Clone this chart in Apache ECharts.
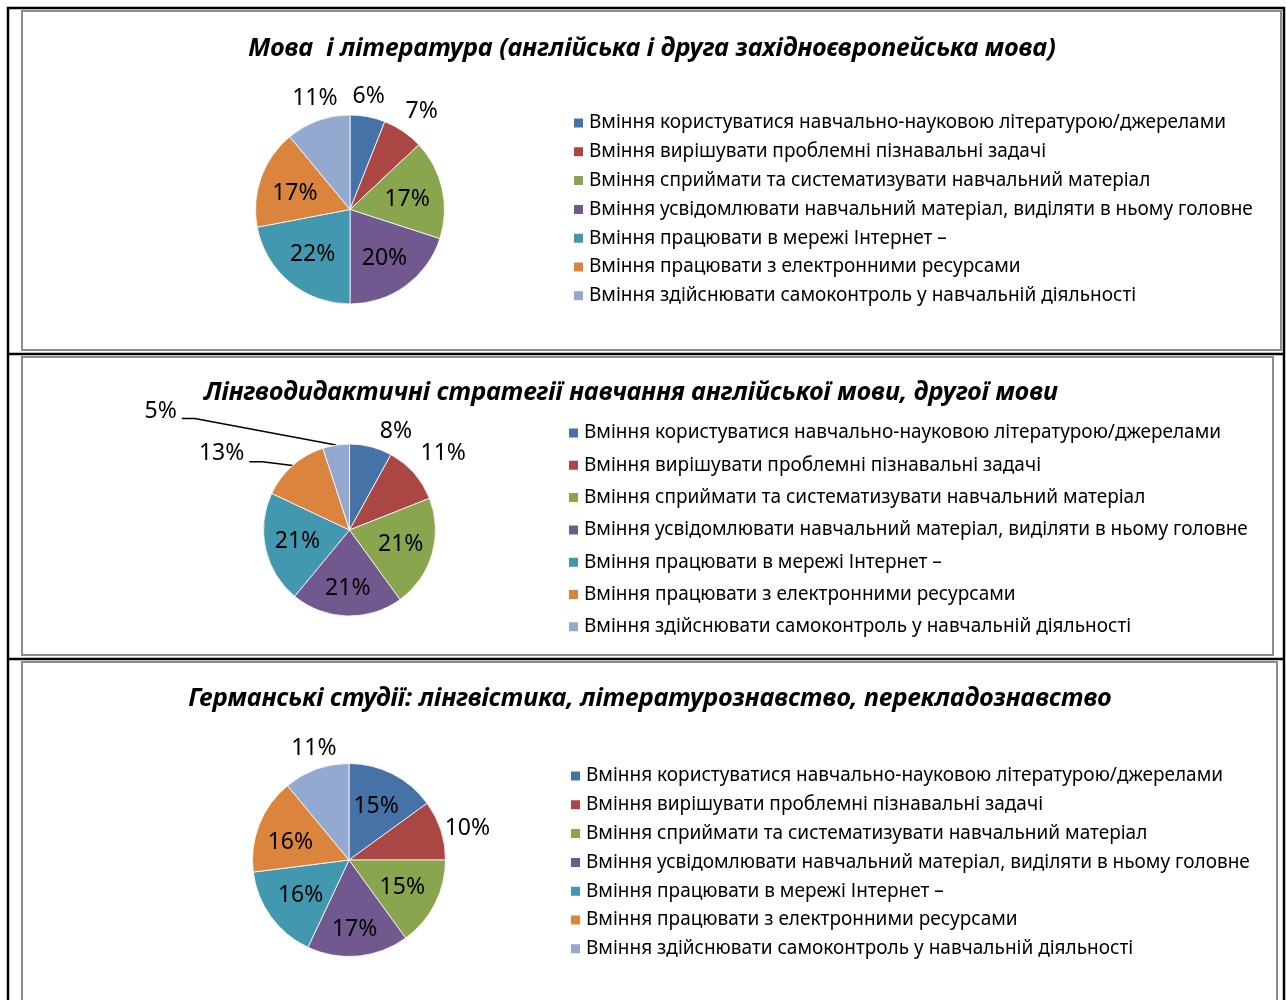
<!DOCTYPE html>
<html>
<head>
<meta charset="utf-8">
<script src="https://cdn.jsdelivr.net/npm/echarts@6/dist/echarts.min.js"></script>
<style>
html,body{margin:0;padding:0;background:#fff;}
#chart{width:1286px;height:1000px;}
</style>
</head>
<body>
<div id="chart"></div>
<script>
// ---- data ----
const categories = [
  'Вміння користуватися навчально-науковою літературою/джерелами',
  'Вміння вирішувати проблемні пізнавальні задачі',
  'Вміння сприймати та систематизувати навчальний матеріал',
  'Вміння усвідомлювати навчальний матеріал, виділяти в ньому головне',
  'Вміння працювати в мережі Інтернет –',
  'Вміння працювати з електронними ресурсами',
  'Вміння здійснювати самоконтроль у навчальній діяльності'
];
const chartTitles = [
  'Мова  і література (англійська і друга західноєвропейська мова)',
  'Лінгводидактичні стратегії навчання англійської мови, другої мови',
  'Германські студії: лінгвістика, літературознавство, перекладознавство'
];
const valuesLanguageLit = [6, 7, 17, 20, 22, 17, 11];
const valuesStrategies = [8, 11, 21, 21, 21, 13, 5];
const valuesGermanic = [15, 10, 15, 17, 16, 16, 11];

// ---- styles / layout ----
const colors = ['#4572A7', '#AA4643', '#89A54E', '#71588F', '#4198AF', '#DB843D', '#93A9CF'];
const FONT = 'Noto Sans';

const panels = [
  { values: valuesLanguageLit, title: chartTitles[0], center: [350, 209.5], r: 94.5,
    titleTop: 34, titleX: 652,
    legendLeft: 572, legendTop: 113, legendGap: 8.8,
    labels: { 0: {off: 21, dx: -3}, 1: {off: 26, dx: 4, dy: 2}, 6: {off: 24, dx: 5},
              2: {dy: 3}, 3: {dy: 2}, 5: {dy: 4} } },
  { values: valuesStrategies, title: chartTitles[1], center: [349.5, 530], r: 86,
    titleTop: 378, titleX: 631,
    legendLeft: 567, legendTop: 423, legendGap: 12.3,
    labels: { 0: {off: 16, dx: 21}, 1: {off: 35, dx: 3, dy: 3},
              5: {leader: true, len: 5, len2: 40, dy: -8},
              6: {leader: true, len: 27, len2: 150, dy: -7},
              3: {dy: 5} } },
  { values: valuesGermanic, title: chartTitles[2], center: [349, 860], r: 96.5,
    titleTop: 684, titleX: 650,
    legendLeft: 569, legendTop: 766, legendGap: 8.8,
    labels: { 1: {off: 28, dy: 7}, 6: {off: 22, dx: 5}, 3: {dy: 10}, 5: {dx: -3, dy: 4} } }
];

const chart = echarts.init(document.getElementById('chart'), null, {renderer: 'canvas'});

const titles = panels.map(p => ({
  text: p.title,
  left: p.titleX,
  textAlign: 'center',
  top: p.titleTop,
  padding: 0,
  textStyle: { fontFamily: FONT, fontSize: 25.2, fontWeight: 'bold', fontStyle: 'italic', color: '#000', lineHeight: 30 }
}));

const legends = panels.map(p => ({
  data: categories,
  orient: 'vertical',
  left: p.legendLeft,
  top: p.legendTop,
  padding: 0,
  icon: 'rect',
  itemWidth: 11,
  itemHeight: 11,
  itemGap: p.legendGap,
  selectedMode: false,
  textStyle: { fontFamily: FONT, fontSize: 19, color: '#000', lineHeight: 20 }
}));

const series = panels.map(p => ({
  type: 'pie',
  center: p.center,
  radius: p.r,
  startAngle: 90,
  clockwise: true,
  avoidLabelOverlap: false,
  silent: true,
  emphasis: { scale: false },
  itemStyle: { borderColor: '#ffffff', borderWidth: 0.8 },
  label: {
    show: true,
    position: 'outside',
    alignTo: 'none',
    formatter: prm => Math.round(prm.percent) + '%',
    fontFamily: FONT, fontSize: 23, color: '#000'
  },
  labelLine: { show: true, length: 2, length2: 2, minTurnAngle: 0, lineStyle: { opacity: 0 } },
  data: categories.map((name, i) => {
    const cfg = p.labels[i];
    const item = { name: name, value: p.values[i], itemStyle: { color: colors[i] } };
    if (cfg && cfg.leader) {
      item.labelLine = { show: true, length: cfg.len, length2: cfg.len2,
        lineStyle: { opacity: 1, color: '#000', width: 1.5 } };
    }
    return item;
  }),
  labelLayout: function (params) {
    const pts = params.labelLinePoints;
    if (!pts) return {};
    const cfg = p.labels[params.dataIndex] || {};
    const p0 = pts[0], p1 = pts[1];
    if (cfg.leader) {
      const p2 = pts[2];
      const sgn = p2[0] < p0[0] ? 1 : -1;
      return { dy: cfg.dy || 0, labelLinePoints: [p0, [p2[0] + sgn * 13, p2[1]], p2] };
    }
    let ux = p1[0] - p0[0], uy = p1[1] - p0[1];
    const len = Math.hypot(ux, uy) || 1;
    ux /= len; uy /= len;
    const off = (cfg.off !== undefined) ? cfg.off : -0.38 * p.r;
    return {
      x: p0[0] + ux * off + (cfg.dx || 0),
      y: p0[1] + uy * off + (cfg.dy || 0),
      align: 'center',
      verticalAlign: 'middle'
    };
  }
}));

const grey = '#8c8c8c';
const graphic = [
  { type: 'rect', z: -1, shape: { x: 22, y: 11, width: 1259, height: 339 }, style: { fill: 'none', stroke: grey, lineWidth: 2 } },
  { type: 'rect', z: -1, shape: { x: 22, y: 357, width: 1251, height: 298 }, style: { fill: 'none', stroke: grey, lineWidth: 2 } },
  { type: 'rect', z: -1, shape: { x: 22, y: 662, width: 1255, height: 400 }, style: { fill: 'none', stroke: grey, lineWidth: 2 } },
  { type: 'polyline', z: -1, shape: { points: [[8, 1002], [8, 8], [1284, 8], [1284, 1002]] }, style: { fill: 'none', stroke: '#000', lineWidth: 2.5 } },
  { type: 'line', z: -1, shape: { x1: 8, y1: 354, x2: 1284, y2: 354 }, style: { stroke: '#000', lineWidth: 2.5 } },
  { type: 'line', z: -1, shape: { x1: 8, y1: 659, x2: 1284, y2: 659 }, style: { stroke: '#000', lineWidth: 2.5 } }
];

chart.setOption({
  animation: false,
  color: colors,
  title: titles,
  legend: legends,
  series: series,
  graphic: graphic
});
</script>
</body>
</html>
